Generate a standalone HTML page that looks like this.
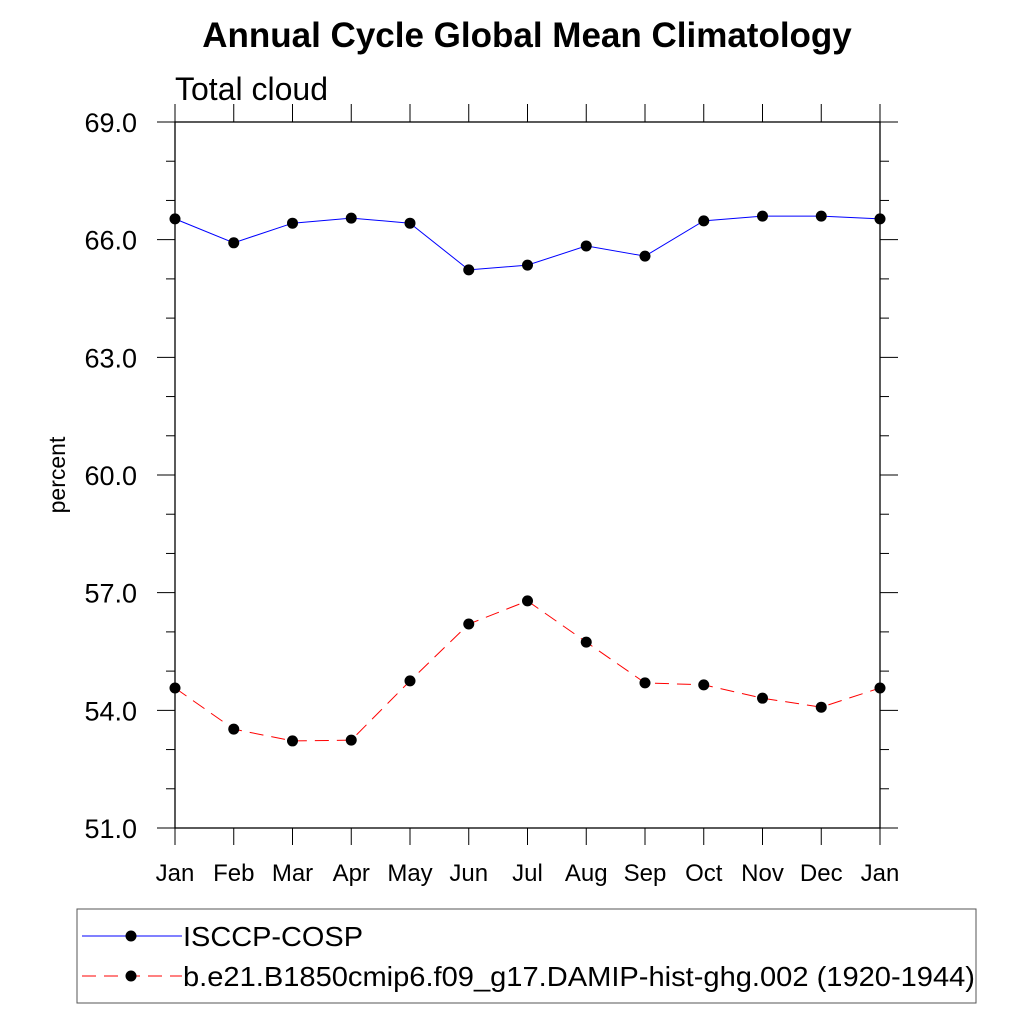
<!DOCTYPE html>
<html><head><meta charset="utf-8"><style>
body{margin:0;background:#fff;width:1024px;height:1024px;overflow:hidden;font-family:"Liberation Sans",sans-serif}
</style></head><body>
<svg width="1024" height="1024" xmlns="http://www.w3.org/2000/svg" font-family="Liberation Sans, sans-serif">
<text x="527" y="47" text-anchor="middle" font-size="35" font-weight="bold">Annual Cycle Global Mean Climatology</text>
<text x="175" y="100" font-size="32">Total cloud</text>
<text transform="translate(65,475) rotate(-90)" text-anchor="middle" font-size="23">percent</text>
<g id="axes"></g>
<g id="series"></g>
<rect x="77" y="909" width="899" height="94" fill="none" stroke="#555" stroke-width="1"/>
<g>
<line x1="82" y1="936" x2="182" y2="936" stroke="#00f" stroke-width="1"/>
<circle cx="131" cy="936" r="5.5" fill="#000"/>
<text x="183" y="946" font-size="28" textLength="180" lengthAdjust="spacingAndGlyphs">ISCCP-COSP</text></g>
<g>
<line x1="82" y1="976" x2="182" y2="976" stroke="#f00" stroke-width="1" stroke-dasharray="14,8"/>
<circle cx="131" cy="976" r="5.5" fill="#000"/>
<text x="183" y="986" font-size="28" textLength="792" lengthAdjust="spacingAndGlyphs">b.e21.B1850cmip6.f09_g17.DAMIP-hist-ghg.002 (1920-1944)</text></g>
</svg>
<script>
const months=["Jan","Feb","Mar","Apr","May","Jun","Jul","Aug","Sep","Oct","Nov","Dec","Jan"];
const isccp=[66.53,65.92,66.42,66.55,66.42,65.23,65.35,65.84,65.58,66.48,66.60,66.60,66.53];
const model=[54.57,53.52,53.22,53.24,54.75,56.20,56.79,55.74,54.70,54.65,54.31,54.08,54.57];
const yTicks=[51,54,57,60,63,66,69];
const yTickLabels=["51.0","54.0","57.0","60.0","63.0","66.0","69.0"];
const NS="http://www.w3.org/2000/svg";
const L=175,R=880,T=122,B=828,ymin=51,ymax=69;
const xs=i=>L+i*(R-L)/12;
const ys=v=>B-(v-ymin)/(ymax-ymin)*(B-T);
function mk(tag,attrs,parent){const e=document.createElementNS(NS,tag);for(const k in attrs)e.setAttribute(k,attrs[k]);parent.appendChild(e);return e;}
const ax=document.getElementById('axes');
const frame=mk('rect',{x:L,y:T,width:R-L,height:B-T,fill:'none',stroke:'#000','stroke-width':1.3},ax);


for(let v=ymin;v<=ymax;v+=1){const y=ys(v);const major=yTicks.includes(v);const len=major?18:9;
mk('line',{x1:L-len,y1:y,x2:L,y2:y,stroke:'#000','stroke-width':1},ax);
mk('line',{x1:R,y1:y,x2:R+len,y2:y,stroke:'#000','stroke-width':1},ax);}
yTicks.forEach((v,i)=>{const t=mk('text',{x:L-38,y:ys(v)+10,'text-anchor':'end','font-size':27},ax);t.textContent=yTickLabels[i];

});
months.forEach((m,i)=>{const x=xs(i);
mk('line',{x1:x,y1:T-18,x2:x,y2:T,stroke:'#000','stroke-width':1},ax);
mk('line',{x1:x,y1:B,x2:x,y2:B+17,stroke:'#000','stroke-width':1},ax);
const t=mk('text',{x:x,y:881,'text-anchor':'middle','font-size':24},ax);t.textContent=m;

});
const sg=document.getElementById('series');
function draw(vals,color,dash,name){const g=mk('g',{},sg);


const pl=mk('polyline',{points:vals.map((v,i)=>xs(i)+','+ys(v)).join(' '),fill:'none',stroke:color,'stroke-width':1},g);
if(dash)pl.setAttribute('stroke-dasharray',dash);
vals.forEach((v,i)=>{const c=mk('circle',{cx:xs(i),cy:ys(v),r:5.5,fill:'#000'},g);

});}
draw(isccp,'#00f',null,'isccp-series');
draw(model,'#f00','14,8','model-series');
</script>
</body></html>
